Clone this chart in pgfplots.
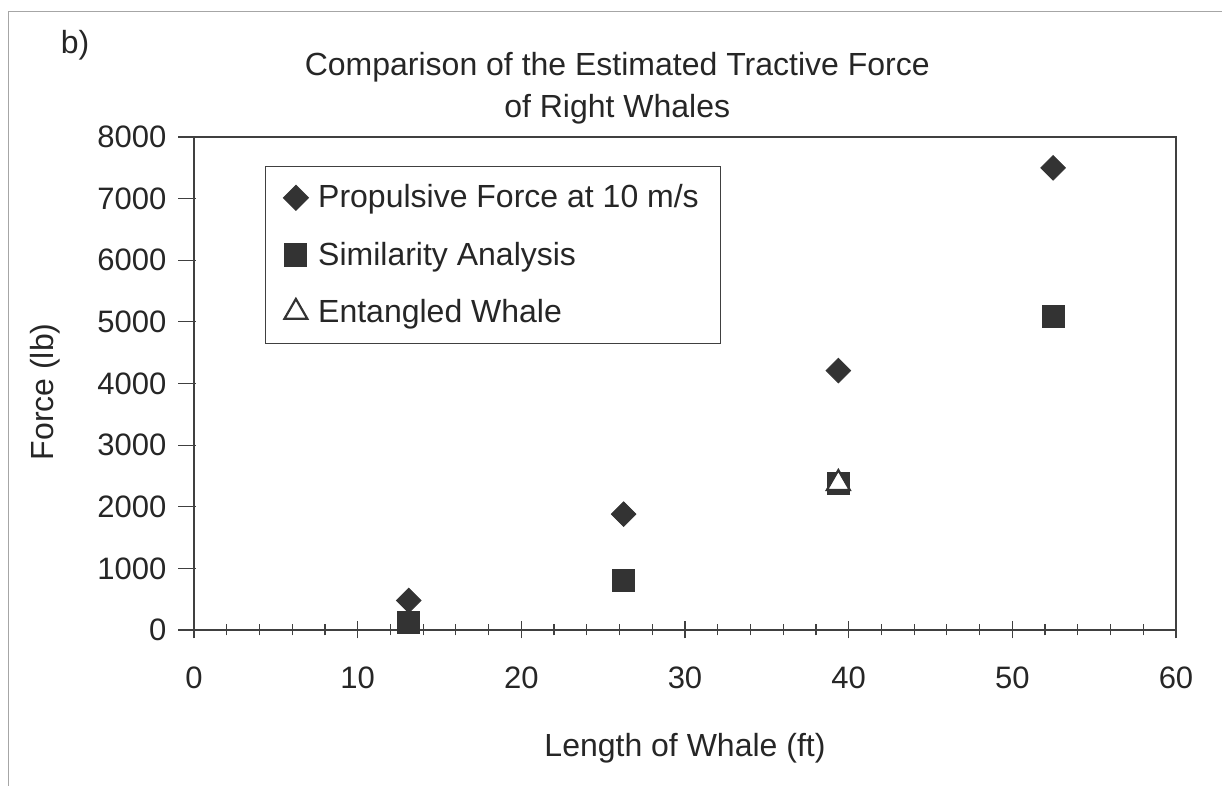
\documentclass[border=0pt]{standalone}
\usepackage{pgfplots}
\pgfplotsset{compat=1.18}
\usepackage{fontspec}
\setmainfont{Liberation Sans}
\definecolor{mk}{rgb}{0.2,0.2,0.2}
\definecolor{ax}{rgb}{0.25,0.25,0.25}
\begin{document}
\begin{tikzpicture}
\useasboundingbox (0,0) rectangle (611pt,393pt);
\draw[gray!70, line width=0.5pt] (4pt,0pt) -- (4pt,387pt) -- (611pt,387pt);
\node[font=\fontsize{16}{19}\selectfont, text=black!85] at (37.5pt,370.5pt) {b)};
\begin{axis}[
  at={(97pt,78pt)}, anchor=south west,
  scale only axis, width=491pt, height=246.5pt,
  xmin=0, xmax=60, ymin=0, ymax=8000,
  xtick={0,10,...,60}, ytick={0,1000,...,8000},
  minor x tick num=4,
  tick align=center,
  major tick length=8.5pt, minor tick length=5.5pt,
  xtick pos=left, ytick pos=left,
  ytick style={xshift=-3.5pt},
  axis line style={ax, line width=0.6pt},
  every tick/.style={ax, line width=0.6pt},
  ticklabel style={font=\fontsize{15.5}{18}\selectfont, text=black!85},
  /pgf/number format/assume math mode=true,
  /pgf/number format/set thousands separator={},
  scaled y ticks=false,
  xticklabel style={yshift=-10.5pt},
  yticklabel style={xshift=-6pt},
  clip=false,
  title={Comparison of the Estimated Tractive Force\\of Right Whales},
  title style={at={(axis description cs:0.431,1.075)}, anchor=center, align=center, font=\fontsize{16}{21}\selectfont, text=black!85},
  xlabel={Length of Whale (ft)},
  xlabel style={at={(axis description cs:0.5,-0.24)}, anchor=center, font=\fontsize{16}{19}\selectfont, text=black!85},
  ylabel={Force (lb)},
  ylabel style={at={(axis description cs:-0.152,0.483)}, anchor=center, font=\fontsize{16}{19}\selectfont, text=black!85},
  legend style={at={(axis description cs:0.0723,0.941)}, anchor=north west, draw=ax, line width=0.6pt,
    font=\fontsize{16}{19}\selectfont, text=black!85, row sep=11.5pt, column sep=3pt, inner xsep=9pt, inner ysep=7pt},
  legend cell align=left,
  legend image code/.code={\draw[#1] plot coordinates {(0pt,0pt)};},
]
\addplot[only marks, mark=square*, mark size=4.35pt, mark options={rotate=45, fill=mk, draw=mk}]
  coordinates {(13.12,480) (26.25,1880) (39.37,4210) (52.49,7500)};
\addlegendentry{Propulsive Force at 10 m/s}
\addplot[only marks, mark=square*, mark size=5.5pt, mark options={fill=mk, draw=mk}]
  coordinates {(13.12,130) (26.25,800) (39.37,2380) (52.49,5090)};
\addlegendentry{Similarity Analysis}
\addplot[only marks, mark=triangle*, mark size=6.6pt, mark options={fill=white, draw=mk, line width=1.1pt}]
  coordinates {(39.37,2380)};
\addlegendentry{Entangled Whale}
\end{axis}
\end{tikzpicture}
\end{document}
